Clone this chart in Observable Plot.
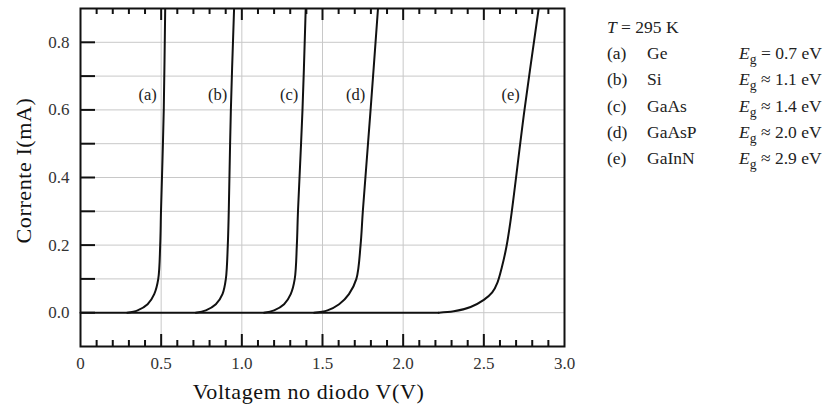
<!DOCTYPE html>
<html>
<head>
<meta charset="utf-8">
<script src="https://cdn.jsdelivr.net/npm/d3@7"></script>
<script src="https://cdn.jsdelivr.net/npm/@observablehq/plot@0.6"></script>
<style>
  html, body { margin: 0; padding: 0; background: #fff; }
  #wrap { position: relative; width: 830px; height: 411px; }
  #legend { position: absolute; left: 607px; top: 14px; font-family: "Liberation Serif", serif; font-size: 17.5px; color: #222; }
  #legend .row { height: 26.2px; line-height: 26.2px; white-space: nowrap; position: relative; }
  #legend .lab { position: absolute; left: 0; }
  #legend .mat { position: absolute; left: 40px; }
  #legend .eg { position: absolute; left: 132px; }
  #legend sub { font-size: 0.78em; vertical-align: -0.35em; line-height: 0; }
</style>
</head>
<body>
<div id="wrap"><div id="chart"></div><div id="legend"></div></div>
<script>
// Curve data: diode voltage V (V) and current I (mA)
const baselineV = [0, 2.22];
const baselineI = [0, 0];
const curveA_V = [0.29, 0.354, 0.416, 0.457, 0.482, 0.494, 0.499, 0.508, 0.516, 0.525];
const curveA_I = [0, 0.007, 0.025, 0.055, 0.1, 0.2, 0.3, 0.45, 0.6, 0.9];
const curveB_V = [0.715, 0.777, 0.839, 0.880, 0.901, 0.913, 0.919, 0.932, 0.952];
const curveB_I = [0, 0.007, 0.025, 0.055, 0.1, 0.2, 0.3, 0.6, 0.9];
const curveC_V = [1.138, 1.200, 1.262, 1.303, 1.328, 1.341, 1.348, 1.376, 1.396];
const curveC_I = [0, 0.007, 0.025, 0.055, 0.1, 0.2, 0.3, 0.6, 0.9];
const curveD_V = [1.448, 1.531, 1.603, 1.664, 1.710, 1.736, 1.750, 1.798, 1.844];
const curveD_I = [0, 0.007, 0.025, 0.055, 0.1, 0.2, 0.3, 0.6, 0.9];
const curveE_V = [2.22, 2.314, 2.418, 2.50, 2.552, 2.585, 2.612, 2.640, 2.665, 2.752, 2.84];
const curveE_I = [0, 0.004, 0.017, 0.038, 0.060, 0.090, 0.135, 0.195, 0.27, 0.6, 0.9];

const curveNames = ["(a)", "(b)", "(c)", "(d)", "(e)"];
const curveLabelV = [0.416, 0.85, 1.293, 1.706, 2.666];
const curveLabelI = [0.644, 0.644, 0.644, 0.644, 0.644];

const materials = ["Ge", "Si", "GaAs", "GaAsP", "GaInN"];
const gapRelation = ["=", "≈", "≈", "≈", "≈"];
const gapValues = ["0.7", "1.1", "1.4", "2.0", "2.9"];

const xTickLabels = [0, 0.5, 1.0, 1.5, 2.0, 2.5, 3.0];
const yTickLabels = [0, 0.2, 0.4, 0.6, 0.8];
const yTicks = [0, 0.1, 0.2, 0.3, 0.4, 0.5, 0.6, 0.7, 0.8];
const xMajorTicks = [0.5, 1.0, 1.5, 2.0, 2.5];
const xMinorTicks = [0.1,0.2,0.3,0.4,0.6,0.7,0.8,0.9,1.1,1.2,1.3,1.4,1.6,1.7,1.8,1.9,2.1,2.2,2.3,2.4,2.6,2.7,2.8,2.9];
const yGrid = [0, 0.1, 0.2, 0.3, 0.4, 0.5, 0.6, 0.7, 0.8];
const xGrid = [0.5, 1.0, 1.5, 2.0, 2.5];

const curveV = [curveA_V, curveB_V, curveC_V, curveD_V, curveE_V];
const curveI = [curveA_I, curveB_I, curveC_I, curveD_I, curveE_I];
const rows = [];
curveNames.forEach((n, k) => curveV[k].forEach((v, j) => rows.push({curve: n, V: v, I: curveI[k][j]})));
const baseRows = baselineV.map((v, j) => ({V: v, I: baselineI[j]}));
const labelRows = curveNames.map((n, k) => ({name: n, V: curveLabelV[k], I: curveLabelI[k]}));

const W = 830, H = 411, mL = 80, mR = 266, mT = 8, mB = 65;
const fw = W - mL - mR, fh = H - mT - mB;
const serif = "Liberation Serif, Times New Roman, serif";

const chart = Plot.plot({
  width: W, height: H,
  marginLeft: mL, marginRight: mR, marginTop: mT, marginBottom: mB,
  style: {fontFamily: serif, background: "#fff"},
  x: {domain: [0, 3]},
  y: {domain: [-0.1, 0.9]},
  marks: [
    Plot.ruleY(yGrid, {stroke: "#c8c8c8", strokeWidth: 1}),
    Plot.ruleX(xGrid, {stroke: "#c8c8c8", strokeWidth: 1}),
    Plot.line(baseRows, {x: "V", y: "I", stroke: "#111", strokeWidth: 2}),
    Plot.line(rows, {x: "V", y: "I", z: "curve", stroke: "#111", strokeWidth: 2, curve: "catmull-rom", clip: true}),
    Plot.text(labelRows, {x: "V", y: "I", text: "name", fontSize: 16.5, fill: "#222", fontFamily: serif}),
    Plot.ruleY(yTicks, {insetRight: fw - 15, stroke: "#111", strokeWidth: 2}),
    Plot.ruleX(xMajorTicks, {insetTop: fh - 12, stroke: "#111", strokeWidth: 2}),
    Plot.ruleX(xMinorTicks, {insetTop: fh - 6, stroke: "#111", strokeWidth: 2}),
    Plot.ruleX(xMajorTicks, {insetBottom: fh - 12, stroke: "#111", strokeWidth: 2}),
    Plot.ruleX(xMinorTicks, {insetBottom: fh - 6, stroke: "#111", strokeWidth: 2}),
    Plot.frame({stroke: "#111", strokeWidth: 2}),
    Plot.axisY({ticks: yTickLabels, tickSize: 0, tickPadding: 11, tickFormat: d3.format(".1f"), label: null, fontSize: 17, fill: "#333"}),
    Plot.axisX({ticks: xTickLabels, tickSize: 0, tickPadding: 10, tickFormat: d => d === 0 ? "0" : d.toFixed(1), label: null, fontSize: 17, fill: "#333"}),
    Plot.text(["Corrente I(mA)"], {frameAnchor: "left", textAnchor: "middle", dx: -57, dy: -7, rotate: -90, fontSize: 22, fill: "#111", fontFamily: serif}),
    Plot.text(["Voltagem no diodo V(V)"], {frameAnchor: "bottom", textAnchor: "middle", dx: -14, dy: 52, fontSize: 22, fill: "#111", fontFamily: serif})
  ]
});
document.getElementById("chart").appendChild(chart);
d3.select(chart).selectAll("text").filter(function() {
  const t = this.textContent;
  return t === "Corrente I(mA)" || t === "Voltagem no diodo V(V)";
}).style("letter-spacing", "0.6px");

const legend = document.getElementById("legend");
let html = `<div class="row"><span class="lab"><i>T</i> = 295 K</span></div>`;
curveNames.forEach((n, k) => {
  html += `<div class="row"><span class="lab">${n}</span><span class="mat">${materials[k]}</span><span class="eg"><i>E</i><sub>g</sub> ${gapRelation[k]} ${gapValues[k]} eV</span></div>`;
});
legend.innerHTML = html;
</script>
</body>
</html>
